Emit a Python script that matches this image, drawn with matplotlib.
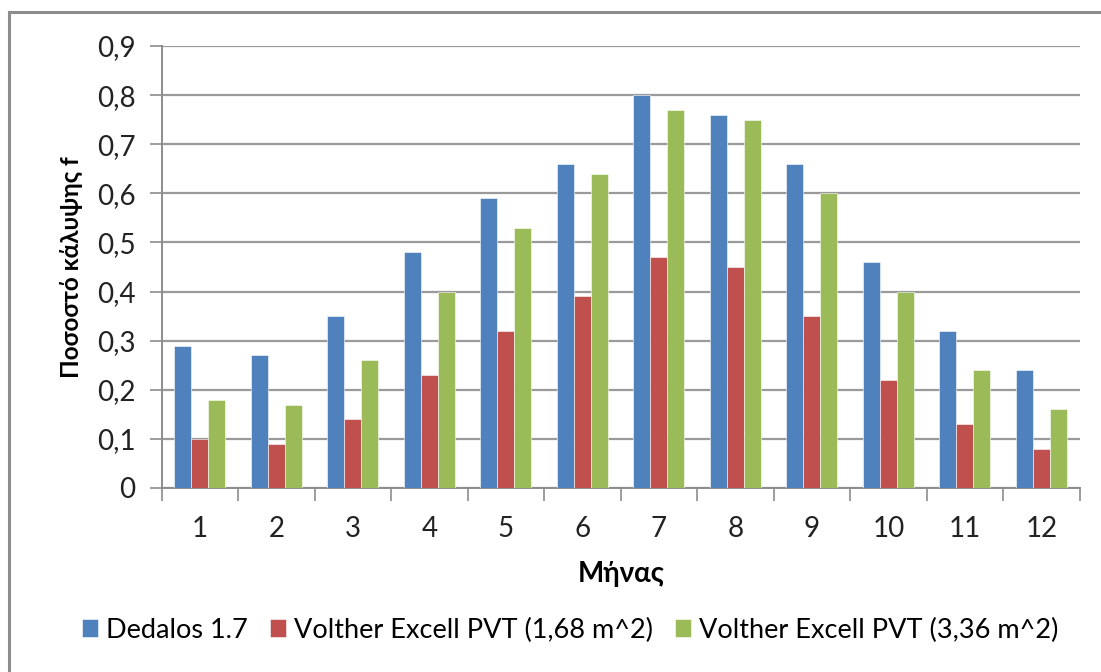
import matplotlib
matplotlib.use("Agg")
import matplotlib.pyplot as plt
import numpy as np
from matplotlib.lines import Line2D

plt.rcParams['font.family'] = ['Lato', 'DejaVu Sans']

months = ['1', '2', '3', '4', '5', '6', '7', '8', '9', '10', '11', '12']
series_names = ['Dedalos 1.7', 'Volther Excell PVT (1,68 m^2)', 'Volther Excell PVT (3,36 m^2)']
dedalos = [0.29, 0.27, 0.35, 0.48, 0.59, 0.66, 0.80, 0.76, 0.66, 0.46, 0.32, 0.24]
volther_168 = [0.10, 0.09, 0.14, 0.23, 0.32, 0.39, 0.47, 0.45, 0.35, 0.22, 0.13, 0.08]
volther_336 = [0.18, 0.17, 0.26, 0.40, 0.53, 0.64, 0.77, 0.75, 0.60, 0.40, 0.24, 0.16]
y_ticks = [0, 0.1, 0.2, 0.3, 0.4, 0.5, 0.6, 0.7, 0.8, 0.9]
y_tick_labels = ['0', '0,1', '0,2', '0,3', '0,4', '0,5', '0,6', '0,7', '0,8', '0,9']
colors = ['#4F81BD', '#C0504D', '#9BBB59']

W, H = 1101, 672
fig = plt.figure(figsize=(W / 100, H / 100), dpi=100)

# outer chart frame (left and top edges visible)
fig.add_artist(Line2D([9 / W, 9 / W], [0, 1 - 12 / H], transform=fig.transFigure,
                      color='#8c8c8c', lw=2.2))
fig.add_artist(Line2D([9 / W, 1], [1 - 12 / H, 1 - 12 / H], transform=fig.transFigure,
                      color='#8c8c8c', lw=2.2))

left, right = 161.7 / W, 1079.7 / W
bottom, top = 1 - 488 / H, 1 - 46 / H
ax = fig.add_axes([left, bottom, right - left, top - bottom])

x = np.arange(len(months))
bw = 1 / 4.5
for i, (vals, c, name) in enumerate(zip([dedalos, volther_168, volther_336], colors, series_names)):
    ax.bar(x + (i - 1) * bw, vals, width=bw, color=c, edgecolor='#ffffff', linewidth=0.4,
           label=name, zorder=3)

ax.set_xlim(-0.5, len(months) - 0.5)
ax.set_ylim(0, 0.9)
ax.set_yticks(y_ticks)
ax.set_yticklabels(y_tick_labels, fontsize=20, color='#222222')
ax.yaxis.grid(True, color='#9a9a9a', linewidth=1.6, zorder=0)
ax.set_axisbelow(True)

ax.set_xticks(x)
ax.set_xticklabels(months, fontsize=20, color='#222222')
ax.tick_params(axis='x', length=0, pad=20)
ax.set_xticks(np.arange(-0.5, len(months), 1), minor=True)
ax.tick_params(axis='x', which='minor', length=9, width=1.2, color='#8c8c8c', direction='out')
ax.tick_params(axis='y', length=9, width=1.2, color='#8c8c8c', direction='out', pad=10)

for s in ['top', 'right']:
    ax.spines[s].set_visible(False)
for s in ['left', 'bottom']:
    ax.spines[s].set_color('#8c8c8c')
    ax.spines[s].set_linewidth(1.4)

ax.set_xlabel('Μήνας', fontsize=20, fontweight='bold', labelpad=14)
ax.set_ylabel('Ποσοστό κάλυψης f', fontsize=17.5, fontweight='bold', labelpad=10)

fig.legend(loc='center', bbox_to_anchor=(570 / W, 1 - 630 / H), ncol=3, frameon=False,
           fontsize=19.5, handlelength=0.6, handleheight=0.6, handletextpad=0.3,
           columnspacing=0.8)

fig.savefig('out.png', dpi=100)
